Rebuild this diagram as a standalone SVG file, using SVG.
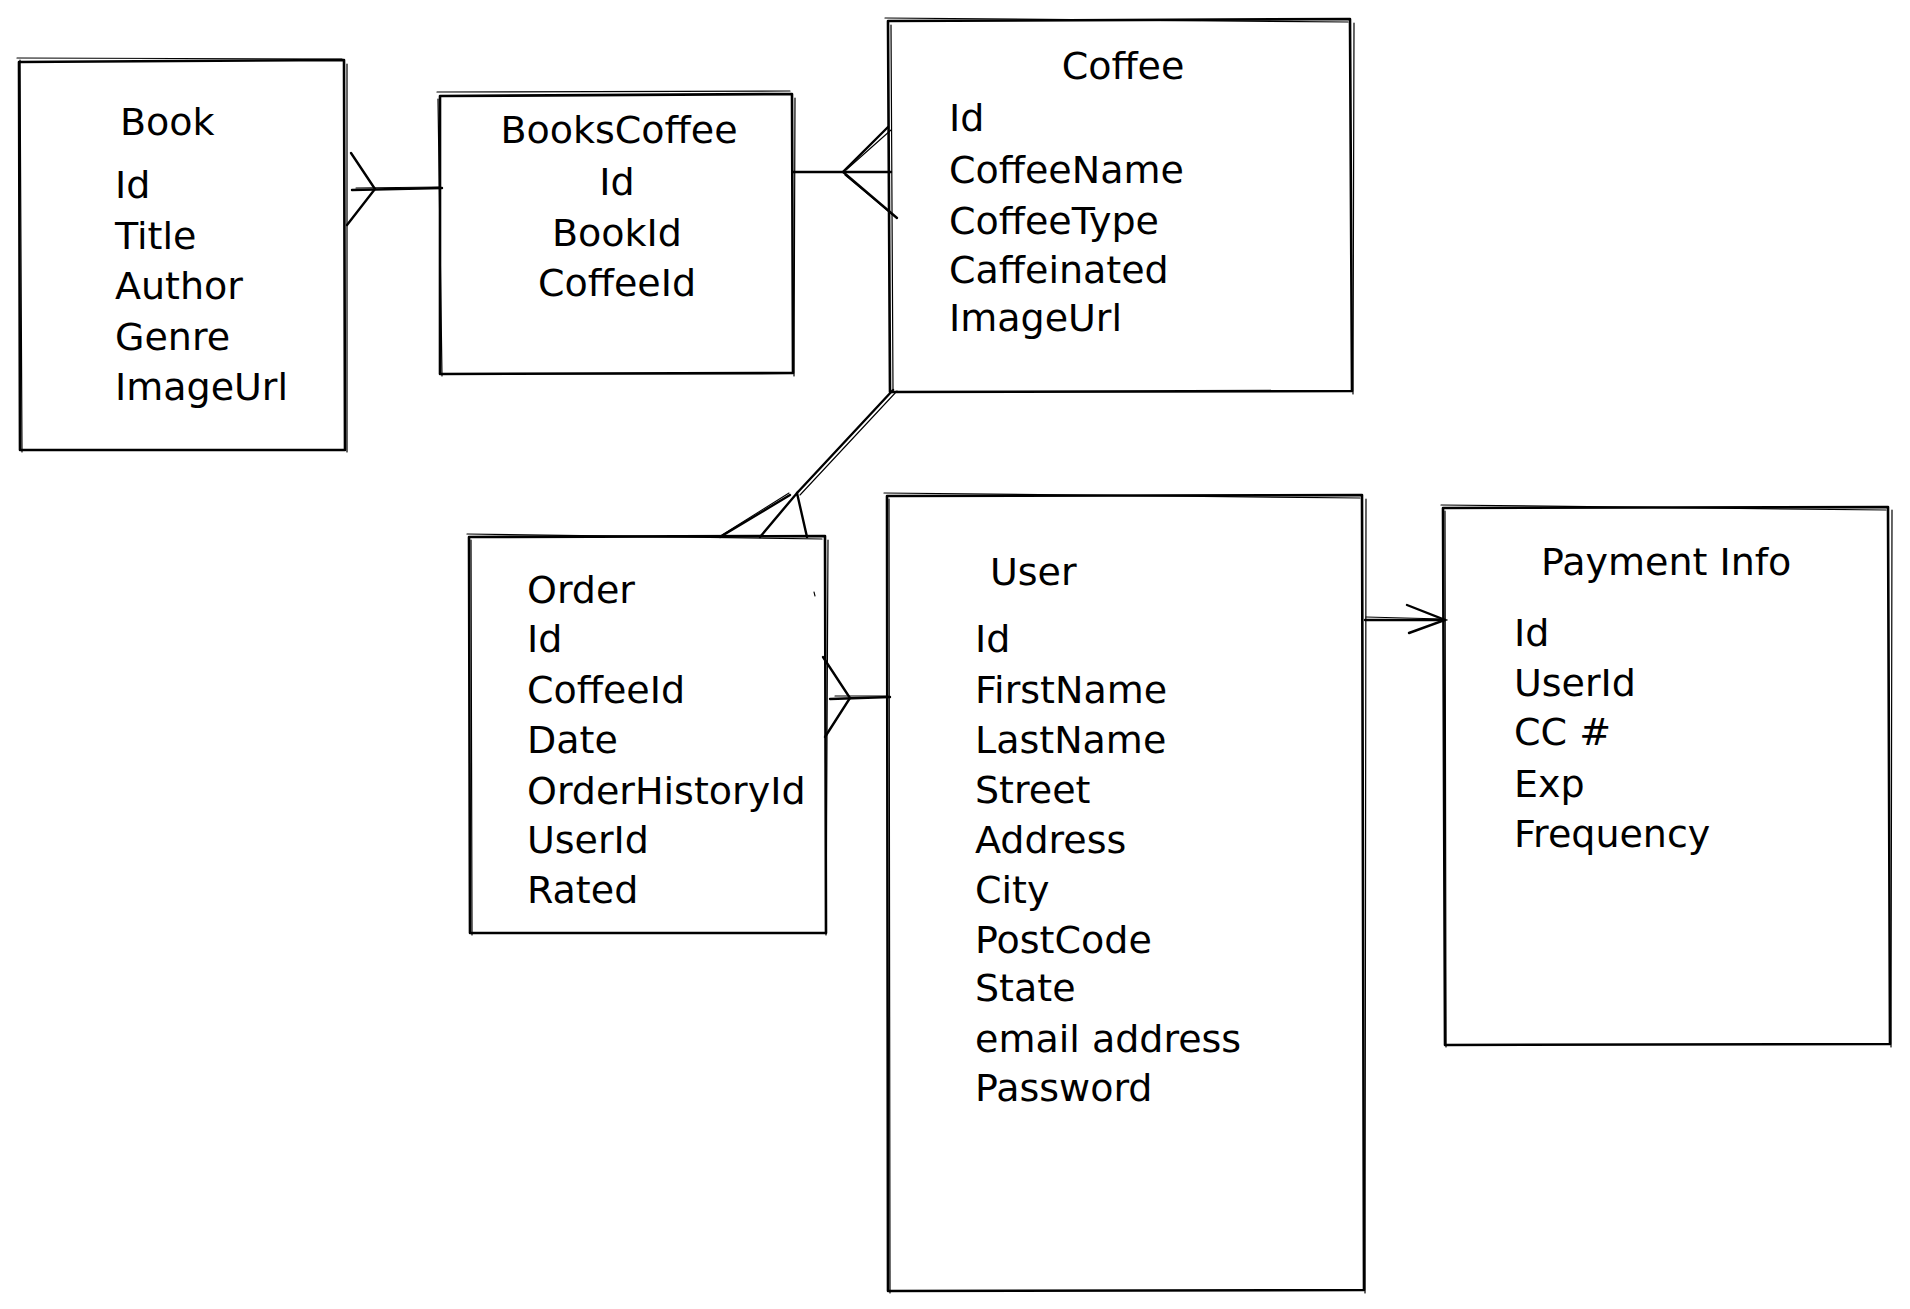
<svg xmlns="http://www.w3.org/2000/svg" width="1910" height="1309" viewBox="0 0 1910 1309">
<style>
.box{fill:none;stroke:#000;stroke-width:2.6;stroke-linecap:round;stroke-linejoin:round}
.box2{fill:none;stroke:#000;stroke-width:1.2;stroke-linecap:round}
.ln{fill:none;stroke:#000;stroke-width:2.4;stroke-linecap:round}
.ln2{fill:none;stroke:#000;stroke-width:1.1;stroke-linecap:round}
text{font-family:"DejaVu Sans","Liberation Sans",sans-serif;font-size:38px;fill:#000}
.c{text-anchor:middle}
</style>
<rect width="1910" height="1309" fill="#fff"/>
<g id="book">
<path class="box" d="M19 62 L344 60 L345 450 L20 450 Z"/>
<path class="box2" d="M17 58 L342 59 M347 64 L347 452 M22 452 L20 60"/>
<text x="120" y="135">Book</text>
<text x="115" y="198">Id</text>
<text x="115" y="249">Title</text>
<text x="115" y="299">Author</text>
<text x="115" y="350">Genre</text>
<text x="115" y="400">ImageUrl</text>
</g>
<g id="bookscoffee">
<path class="box" d="M440 96 L792 94 L793 373 L440 374 Z"/>
<path class="box2" d="M437 92 L790 91 M795 98 L794 376 M442 376 L438 99"/>
<text class="c" x="619" y="143">BooksCoffee</text>
<text class="c" x="617" y="195">Id</text>
<text class="c" x="617" y="246">BookId</text>
<text class="c" x="617" y="296">CoffeeId</text>
</g>
<g id="coffee">
<path class="box" d="M888 21 L1350 19 L1352 391 L890 392 Z"/>
<path class="box2" d="M885 18 L1348 22 M1354 23 L1353 394 M893 389 L891 25"/>
<text class="c" x="1123" y="79">Coffee</text>
<text x="949" y="131">Id</text>
<text x="949" y="183">CoffeeName</text>
<text x="949" y="234">CoffeeType</text>
<text x="949" y="283">Caffeinated</text>
<text x="949" y="331">ImageUrl</text>
</g>
<g id="order">
<path class="box" d="M469 537 L825 536 L826 933 L470 933 Z"/>
<path class="box2" d="M467 534 L822 539 M828 540 L826 935 M472 935 L471 540"/>
<path class="ln2" d="M814 592 L815 596"/>
<text x="527" y="603">Order</text>
<text x="527" y="652">Id</text>
<text x="527" y="703">CoffeeId</text>
<text x="527" y="753">Date</text>
<text x="527" y="804">OrderHistoryId</text>
<text x="527" y="853">UserId</text>
<text x="527" y="903">Rated</text>
</g>
<g id="user">
<path class="box" d="M887 496 L1362 495 L1364 1290 L888 1291 Z"/>
<path class="box2" d="M884 493 L1360 498 M1366 499 L1365 1293 M890 1293 L889 499"/>
<text x="990" y="585">User</text>
<text x="975" y="652">Id</text>
<text x="975" y="703">FirstName</text>
<text x="975" y="753">LastName</text>
<text x="975" y="803">Street</text>
<text x="975" y="853">Address</text>
<text x="975" y="903">City</text>
<text x="975" y="953">PostCode</text>
<text x="975" y="1001">State</text>
<text x="975" y="1052">email address</text>
<text x="975" y="1101">Password</text>
</g>
<g id="payment">
<path class="box" d="M1443 508 L1888 507 L1890 1044 L1445 1045 Z"/>
<path class="box2" d="M1441 505 L1886 510 M1892 510 L1891 1047 M1446 1047 L1445 511"/>
<text x="1541" y="575">Payment Info</text>
<text x="1514" y="646">Id</text>
<text x="1514" y="696">UserId</text>
<text x="1514" y="745">CC #</text>
<text x="1514" y="797">Exp</text>
<text x="1514" y="847">Frequency</text>
</g>
<g id="connectors">
<path class="ln" d="M351 153 L375 189 L347 225"/>
<path class="ln" d="M352 190 L442 188"/>
<path class="ln2" d="M356 188 L440 187"/>
<path class="ln" d="M793 172 L891 172"/>
<path class="ln" d="M888 127 L843 172 L897 218"/>
<path class="ln2" d="M891 130 L846 170 M845 175 L893 215"/>
<path class="ln" d="M893 390 L797 493"/>
<path class="ln2" d="M897 391 L800 495"/>
<path class="ln" d="M720 537 L790 495 M760 537 L797 493 L807 537"/>
<path class="ln2" d="M722 535 L789 493"/>
<path class="ln" d="M823 657 L850 698 L825 737"/>
<path class="ln" d="M830 699 L890 697"/>
<path class="ln2" d="M835 696 L888 696"/>
<path class="ln" d="M1365 620 L1445 620"/>
<path class="ln2" d="M1366 617 L1443 619"/>
<path class="ln" d="M1407 605 L1445 620 L1409 633"/>
</g>
</svg>
